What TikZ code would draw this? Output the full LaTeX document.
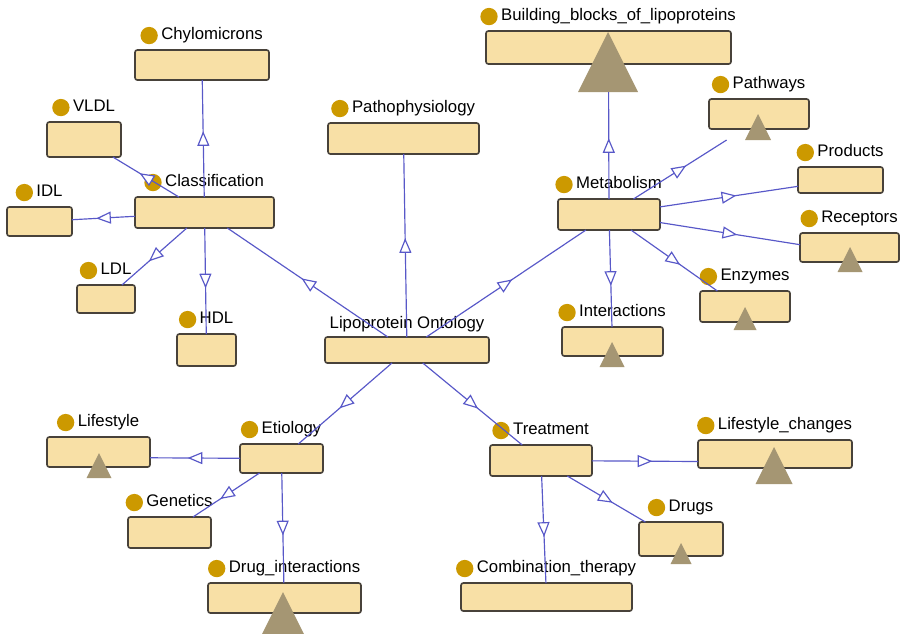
\documentclass[tikz,border=0pt]{standalone}
\usepackage{fontspec}
\setmainfont{Liberation Sans}
\usepackage{xcolor}
\usetikzlibrary{arrows.meta,positioning,decorations.markings}

\definecolor{clsfill}{RGB}{248,224,166}
\definecolor{clsline}{RGB}{72,66,58}
\definecolor{dotgold}{RGB}{204,153,0}
\definecolor{trigray}{RGB}{165,150,115}
\definecolor{isablue}{RGB}{88,88,200}

\tikzset{
    cls/.style={draw=clsline, fill=clsfill, line width=1.4pt, rounded corners=2pt},
    hull/.style={inner sep=0pt, outer sep=0pt},
    lbl/.style={inner sep=0pt, text height=0.72em, text depth=0pt,
        font=\fontsize{14.3}{16}\selectfont},
    dot/.style={circle, fill=dotgold, inner sep=0pt, minimum size=0.52cm},
    expander/.style={fill=trigray},
    isa/.style={draw=isablue, line width=1pt, postaction={decorate},
        decoration={markings, mark=at position 0.5 with
            {\arrow[xshift=0.22cm]{Triangle[open, fill=white, length=0.44cm, width=0.36cm]}}}}
}

\begin{document}
\begin{tikzpicture}[x=0.03cm, y=-0.03cm]
    \useasboundingbox (0,0) rectangle (901,633);

    % Classes: box corners, bottom of the node incl. expander, name
    \foreach \id/\xa/\ya/\xb/\yb/\yh/\txt in {
        chylo/135/50/269/80/80/Chylomicrons,
        vldl/47/122/121/157/157/VLDL,
        classif/135/197/274/228/228/Classification,
        idl/7/207/72/236/236/IDL,
        ldl/77/285/135/313/313/LDL,
        hdl/177/334/236/366/366/HDL,
        patho/328/123/479/154/154/Pathophysiology,
        bblocks/486/31/731/64/92/Building\_blocks\_of\_lipoproteins,
        pathways/709/99/809/129/140/Pathways,
        products/798/167/883/193/193/Products,
        metab/558/199/660/230/230/Metabolism,
        receptors/800/233/899/262/272/Receptors,
        enzymes/700/291/790/322/330/Enzymes,
        interact/562/327/663/356/367/Interactions,
        lifestyle/47/437/150/467/478/Lifestyle,
        etiology/240/444/323/473/473/Etiology,
        genetics/128/517/211/548/548/Genetics,
        druginter/208/583/361/613/652/Drug\_interactions,
        treatment/490/445/592/476/476/Treatment,
        lchanges/698/440/852/468/484/Lifestyle\_changes,
        drugs/639/522/723/556/564/Drugs,
        combo/461/583/632/611/611/Combination\_therapy} {
        \draw[cls] (\xa,\ya) rectangle (\xb,\yb);
        \node[hull, minimum width={(\xb-\xa)*0.03cm}, minimum height={(\yh-\ya)*0.03cm}]
            (\id) at ({(\xa+\xb)/2},{(\ya+\yh)/2}) {};
        \node[lbl, above=0.3cm of \id.north, xshift=0.3cm] (\id-lbl) {\txt};
        \node[dot, left=0.09cm of \id-lbl] (\id-dot) {};
    }

    % Root class
    \draw[cls] (325,337) rectangle (489,363);
    \node[hull, minimum width=4.92cm, minimum height=0.78cm] (onto) at (407,350) {};
    \node[lbl, above=0.25cm of onto.north] (onto-lbl) {Lipoprotein Ontology};

    % Expander triangles: apex and height
    \foreach \ax/\ay/\th in {608/32/60, 758/114/26, 850/247/25, 745/307/23,
        612/342/25, 99/453/25, 283/592/60, 774/447/37, 681/543/21} {
        \fill[expander] (\ax,\ay) -- ++(-\th/2,\th) -- ++(\th,0) -- cycle;
    }

    % Subclass links
    \draw[isa] (onto) -- (classif);
    \draw[isa] (onto) -- (patho);
    \draw[isa] (onto) -- (metab);
    \draw[isa] (onto) -- (etiology);
    \draw[isa] (onto) -- (treatment);

    \draw[isa] (classif) -- (chylo);
    \draw[isa] (classif) -- (vldl);
    \draw[isa] (classif) -- (idl);
    \draw[isa] (classif) -- (ldl);
    \draw[isa] (classif) -- (hdl);

    \draw[isa] (metab) -- (bblocks);
    \draw[isa] (metab) -- (pathways);
    \draw[isa] (metab) -- (products);
    \draw[isa] (metab) -- (receptors);
    \draw[isa] (metab) -- (enzymes);
    \draw[isa] (metab) -- (interact);

    \draw[isa] (etiology) -- (lifestyle);
    \draw[isa] (etiology) -- (genetics);
    \draw[isa] (etiology) -- (druginter);

    \draw[isa] (treatment) -- (lchanges);
    \draw[isa] (treatment) -- (drugs);
    \draw[isa] (treatment) -- (combo);
\end{tikzpicture}
\end{document}
